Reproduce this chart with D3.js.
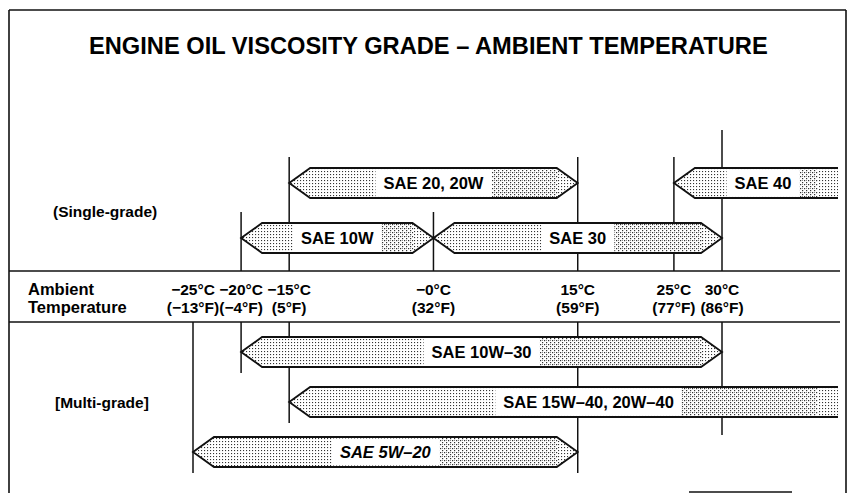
<!DOCTYPE html>
<html>
<head>
<meta charset="utf-8">
<script src="https://cdn.jsdelivr.net/npm/d3@7"></script>
<style>
  html, body { margin: 0; padding: 0; background: #fff; }
  svg { display: block; font-family: "Liberation Sans", Arial, Helvetica, sans-serif; }
</style>
</head>
<body>
<div id="chart"></div>
<script>
var width = 848,
    height = 493;

// temperature axis
var temps = [-25, -20, -15, 0, 15, 25, 30];
var celsius = ["\u221225\u00b0C", "\u221220\u00b0C", "\u221215\u00b0C", "\u22120\u00b0C", "15\u00b0C", "25\u00b0C", "30\u00b0C"];
var fahrenheit = ["(\u221213\u00b0F)", "(\u22124\u00b0F)", "(5\u00b0F)", "(32\u00b0F)", "(59\u00b0F)", "(77\u00b0F)", "(86\u00b0F)"];

// single-grade oils (null = open to the right)
var singleNames = ["SAE 20, 20W", "SAE 40", "SAE 10W", "SAE 30"];
var singleFrom = [-15, 25, -20, 0];
var singleTo = [15, null, 0, 30];
var singleRow = [0, 0, 1, 1];

// multi-grade oils
var multiNames = ["SAE 10W\u201330", "SAE 15W\u201340, 20W\u201340", "SAE 5W\u201320"];
var multiFrom = [-20, -15, -25];
var multiTo = [30, null, 15];
var multiRow = [0, 1, 2];

var x = d3.scaleLinear().domain([-25, 30]).range([193, 722]);
var ySingle = d3.scalePoint().domain([0, 1]).range([183, 238]);
var yMulti = d3.scalePoint().domain([0, 1, 2]).range([352, 452]);

var bandTop = 271, bandBottom = 322, openEdge = 838;
var half = 15, inset = 21;

var svg = d3.select("#chart").append("svg")
  .attr("width", width)
  .attr("height", height);

var defs = svg.append("defs");
var sparse = defs.append("pattern").attr("id", "sparse")
  .attr("patternUnits", "userSpaceOnUse").attr("width", 3).attr("height", 3);
sparse.append("rect").attr("width", 3).attr("height", 3).attr("fill", "#fff");
sparse.append("rect").attr("width", 1.1).attr("height", 1.1).attr("fill", "#333");

var dense = defs.append("pattern").attr("id", "dense")
  .attr("patternUnits", "userSpaceOnUse").attr("width", 4).attr("height", 4);
dense.append("rect").attr("width", 4).attr("height", 4).attr("fill", "#fff");
dense.append("rect").attr("width", 1.2).attr("height", 1.2).attr("fill", "#333");
dense.append("rect").attr("x", 2).attr("y", 2).attr("width", 1.2).attr("height", 1.2).attr("fill", "#333");
dense.append("rect").attr("x", 2).attr("y", 0).attr("width", 1).attr("height", 1).attr("fill", "#888");

// frame
var frame = svg.append("g").attr("stroke", "#111").attr("stroke-width", 1.6);
frame.append("line").attr("x1", 9).attr("y1", 10).attr("x2", 846).attr("y2", 10);
frame.append("line").attr("x1", 9).attr("y1", 10).attr("x2", 9).attr("y2", 493);
frame.append("line").attr("x1", 846).attr("y1", 10).attr("x2", 846).attr("y2", 493);
frame.append("line").attr("x1", 689).attr("y1", 492).attr("x2", 792).attr("y2", 492);

// title: narrow bold, sized to fill the same width as the original
var title = svg.append("text")
  .attr("x", 89).attr("y", 54)
  .style("font-family", "'Liberation Sans Narrow', 'Arial Narrow', 'Liberation Sans', Arial, sans-serif")
  .style("font-size", "28px").style("font-weight", "bold")
  .text("ENGINE OIL VISCOSITY GRADE \u2013 AMBIENT TEMPERATURE");
var tw = title.node().getComputedTextLength();
title.style("font-size", Math.min(30, 28 * 679 / tw) + "px");

// temperature band
svg.append("line").attr("x1", 9).attr("x2", 840).attr("y1", bandTop).attr("y2", bandTop)
  .attr("stroke", "#111").attr("stroke-width", 1.6);
svg.append("line").attr("x1", 9).attr("x2", 840).attr("y1", bandBottom).attr("y2", bandBottom)
  .attr("stroke", "#111").attr("stroke-width", 1.6);

svg.append("text").attr("x", 28).attr("y", 295)
  .style("font-size", "16.5px").style("font-weight", "bold").text("Ambient");
svg.append("text").attr("x", 28).attr("y", 313)
  .style("font-size", "16.5px").style("font-weight", "bold").text("Temperature");

svg.selectAll("text.cel").data(temps).enter().append("text")
  .attr("class", "cel")
  .attr("x", function(d) { return x(d); }).attr("y", 295)
  .attr("text-anchor", "middle")
  .style("font-size", "15.5px").style("font-weight", "bold")
  .text(function(d, i) { return celsius[i]; });
svg.selectAll("text.fah").data(temps).enter().append("text")
  .attr("class", "fah")
  .attr("x", function(d) { return x(d); }).attr("y", 313)
  .attr("text-anchor", "middle")
  .style("font-size", "15.5px").style("font-weight", "bold")
  .text(function(d, i) { return fahrenheit[i]; });

svg.append("text").attr("x", 53).attr("y", 217)
  .style("font-size", "15.5px").style("font-weight", "bold").text("(Single-grade)");
svg.append("text").attr("x", 55).attr("y", 408)
  .style("font-size", "15.5px").style("font-weight", "bold").text("[Multi-grade]");

// vertical guide lines, worked out from the arrows that touch each temperature
var lines = svg.append("g").attr("stroke", "#111").attr("stroke-width", 1.5);
temps.forEach(function(t) {
  var up = singleRow.filter(function(r, i) { return singleFrom[i] === t || singleTo[i] === t; });
  var down = multiRow.filter(function(r, i) { return multiFrom[i] === t || multiTo[i] === t; });
  if (up.length) {
    var top = t === 30 ? 130 : ySingle(d3.min(up)) - half - 11;
    lines.append("line").attr("x1", x(t)).attr("x2", x(t)).attr("y1", top).attr("y2", bandTop);
  }
  if (down.length) {
    var bottom = t === 30 ? 435 : yMulti(d3.max(down)) + half + 6;
    lines.append("line").attr("x1", x(t)).attr("x2", x(t)).attr("y1", bandBottom).attr("y2", bottom);
  }
});

function drawArrows(names, from, to, rows, y, key) {
  names.forEach(function(name, i) {
    var x0 = x(from[i]);
    var open = to[i] === null;
    var x1 = open ? openEdge : x(to[i]);
    var yc = y(rows[i]);
    var shape = open
      ? [[x0, yc], [x0 + inset, yc - half], [x1, yc - half], [x1, yc + half], [x0 + inset, yc + half]]
      : [[x0, yc], [x0 + inset, yc - half], [x1 - inset, yc - half], [x1, yc], [x1 - inset, yc + half], [x0 + inset, yc + half]];
    var shapePath = "M" + shape.join("L") + "Z";
    var id = "clip-" + key + i;
    defs.append("clipPath").attr("id", id).append("path").attr("d", shapePath);

    var g = svg.append("g");
    g.append("path").attr("d", shapePath).attr("fill", "url(#sparse)");

    var label = g.append("text")
      .attr("x", (x0 + x1) / 2 + (open && rows[i] === 1 ? 25 : 0) + (open && rows[i] === 0 ? 7 : 0))
      .attr("y", yc + 6)
      .attr("text-anchor", "middle")
      .style("font-size", "16.5px").style("font-weight", "bold")
      .style("font-style", name.indexOf("5W") === 4 ? "italic" : "normal")
      .text(name);
    var bb = label.node().getBBox();

    g.insert("rect", "text")
      .attr("clip-path", "url(#" + id + ")")
      .attr("x", bb.x + bb.width + 8).attr("y", yc - half)
      .attr("width", Math.max(0, x1 - (bb.x + bb.width + 8) - 20)).attr("height", half * 2)
      .attr("fill", "url(#dense)");
    g.insert("rect", "text")
      .attr("x", bb.x - 8).attr("y", yc - half + 1.5)
      .attr("width", bb.width + 16).attr("height", half * 2 - 3)
      .attr("fill", "#fff");

    var outline = open
      ? "M" + [[x1, yc - half], [x0 + inset, yc - half], [x0, yc], [x0 + inset, yc + half], [x1, yc + half]].join("L")
      : shapePath;
    g.append("path").attr("d", outline)
      .attr("fill", "none").attr("stroke", "#111").attr("stroke-width", 1.8)
      .attr("stroke-linejoin", "miter");
  });
}

drawArrows(singleNames, singleFrom, singleTo, singleRow, ySingle, "s");
drawArrows(multiNames, multiFrom, multiTo, multiRow, yMulti, "m");
</script>
</body>
</html>
